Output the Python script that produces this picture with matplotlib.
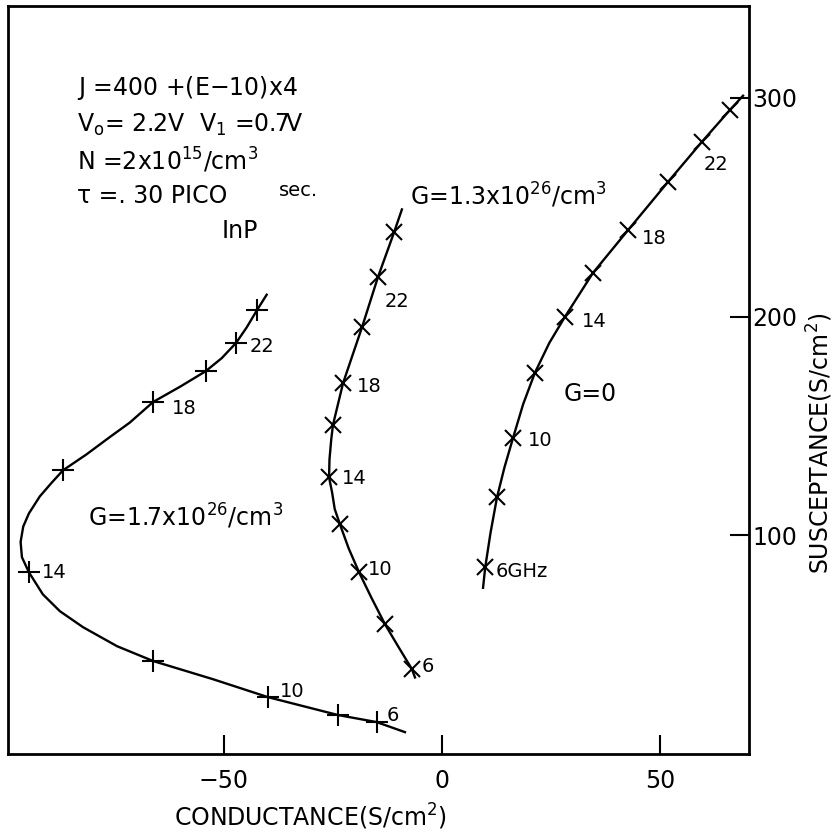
import matplotlib.pyplot as plt

# traced curves (conductance, susceptance)
g17_line_x = [-8.5, -15, -23.8, -39.9, -52.5, -66.2, -74.5, -82.3, -87.6, -91.5, -94.7, -96.3, -96.6, -96,
              -94.7, -92.2, -89.5, -86.9, -81.5, -76.1, -71.6, -66.2, -60, -54.2, -50.5, -47.2, -44.8, -42.4, -40.2]
g17_line_y = [10, 14.6, 17.8, 26, 34.2, 42.5, 49.3, 58, 65.3, 73, 83.1, 90, 97, 104,
              110, 117.8, 124, 129.7, 137, 145, 151.5, 161, 168, 175, 181, 188, 195, 203, 210]
g13_line_x = [-6.2, -6.9, -10, -13.1, -16.2, -19, -21.4, -23.4, -24.6, -25.2, -25.9, -25.8, -25.4, -25,
              -22.7, -18.3, -14.7, -11, -9.2]
g13_line_y = [35, 38.8, 49, 59.4, 71.5, 83, 94, 105, 112, 119.6, 126.5, 134.7, 143.8, 150.5,
              169.5, 195.4, 218, 238.5, 249]
g0_line_x = [9.4, 9.9, 11.1, 12.6, 14.3, 16.3, 18.6, 21.3, 24.6, 28.2, 34.6, 42.7, 51.8, 59.6, 66, 69]
g0_line_y = [76, 85.4, 101, 117.4, 131, 144.7, 160, 174.4, 188, 200, 220, 239.7, 261.6, 280, 294.5, 301]

# frequency points 6, 8, ... 24 GHz
g17_pts_x = [-15, -23.8, -39.9, -66.2, -94.7, -86.9, -66.2, -54.2, -47.2, -42.4]
g17_pts_y = [14.6, 17.8, 26, 42.5, 83.1, 129.7, 161, 175, 188, 203]
g13_pts_x = [-6.9, -13.1, -19, -23.4, -25.9, -25, -22.7, -18.3, -14.7, -11]
g13_pts_y = [38.8, 59.4, 83, 105, 126.5, 150.5, 169.5, 195.4, 218, 238.5]
g0_pts_x = [9.9, 12.6, 16.3, 21.3, 28.2, 34.6, 42.7, 51.8, 59.6, 66]
g0_pts_y = [85.4, 117.4, 144.7, 174.4, 200, 220, 239.7, 261.6, 280, 294.5]

# frequency labels: text, x, y
g17_labels = [('6', -12.6, 17.8), ('10', -37.2, 28.8), ('14', -91.7, 83.1), ('18', -61.9, 158), ('22', -44, 186.3)]
g13_labels = [('6', -4.6, 40.2), ('10', -17, 84.5), ('14', -22.9, 126), ('18', -19.5, 168), ('22', -13.1, 206.8)]
g0_labels = [('6GHz', 12.2, 83.6), ('10', 19.7, 143.4), ('14', 32.1, 197.7), ('18', 45.9, 235.6), ('22', 59.9, 269.4)]

fig = plt.figure(figsize=(8.38, 8.39), dpi=100)
ax = fig.add_axes([0.0095, 0.1013, 0.8845, 0.8915])

lw = 1.7
ax.plot(g17_line_x, g17_line_y, color='black', lw=lw)
ax.plot(g13_line_x, g13_line_y, color='black', lw=lw)
ax.plot(g0_line_x, g0_line_y, color='black', lw=lw, clip_on=False)
ax.plot(g17_pts_x, g17_pts_y, '+', color='black', ms=16, mew=1.5)
ax.plot(g13_pts_x, g13_pts_y, 'x', color='black', ms=11, mew=1.5)
ax.plot(g0_pts_x, g0_pts_y, 'x', color='black', ms=11, mew=1.5, clip_on=False)

for lab in g17_labels + g13_labels + g0_labels:
    ax.text(lab[1], lab[2], lab[0], fontsize=14, ha='left', va='center')

# header block
hx = -83.7
ax.text(hx, 301.4, 'J =400 +(E$-$10)x4', fontsize=17, va='baseline')
ax.text(hx, 284.5, r'V$_\mathrm{o}$= 2.2V  V$_1$ =0.7V', fontsize=17, va='baseline')
ax.text(hx, 267.1, 'N =2x10$^{15}$/cm$^3$', fontsize=17, va='baseline')
ax.text(hx, 252, 'τ =. 30 PICO', fontsize=17, va='baseline')
ax.text(-37.5, 255, 'sec.', fontsize=14, va='baseline')
ax.text(-50.5, 236.1, 'InP', fontsize=17, va='baseline')

ax.text(-7.3, 251, 'G=1.3x10$^{26}$/cm$^3$', fontsize=17, va='baseline')
ax.text(-81.2, 104.1, 'G=1.7x10$^{26}$/cm$^3$', fontsize=17, va='baseline')
ax.text(27.8, 161.2, 'G=0', fontsize=17, va='baseline')

ax.set_xlim(-99.5, 70.4)
ax.set_ylim(0, 342)
ax.set_xticks([-50, 0, 50])
ax.set_xticklabels(['\u221250', '0', '50'])
ax.set_yticks([100, 200, 300])
ax.yaxis.tick_right()
ax.tick_params(axis='x', direction='in', length=14, width=1.5, pad=11, labelsize=17)
ax.tick_params(axis='y', direction='in', length=14, width=1.5, pad=2, labelsize=17)
for s in ax.spines.values():
    s.set_linewidth(2)

ax.text(0.4075, -0.084, 'CONDUCTANCE(S/cm$^2$)', transform=ax.transAxes, fontsize=17,
        ha='center', va='center')
ax.text(1.0958, 0.4158, 'SUSCEPTANCE(S/cm$^2$)', transform=ax.transAxes, fontsize=17,
        rotation=90, ha='center', va='center')

fig.savefig('out.png', dpi=100)
